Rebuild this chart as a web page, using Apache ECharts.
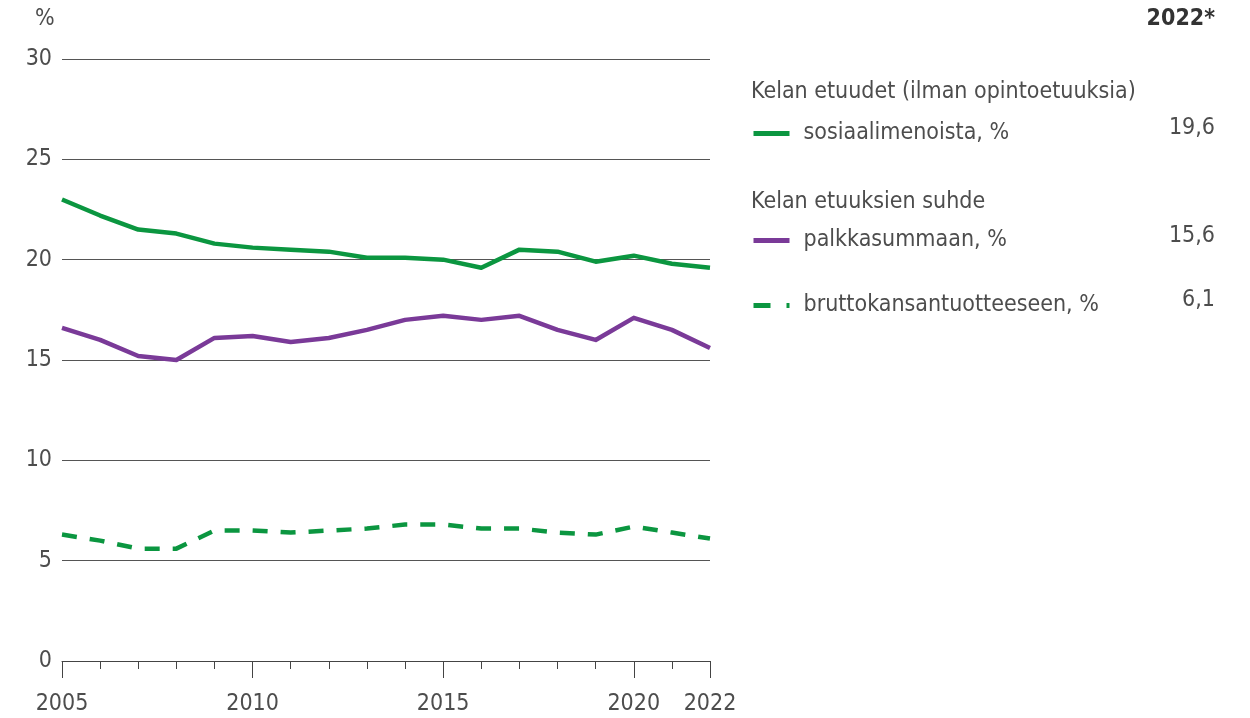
<!DOCTYPE html>
<html>
<head>
<meta charset="utf-8">
<script src="https://cdn.jsdelivr.net/npm/echarts@6/dist/echarts.min.js"></script>
<style>
html,body{margin:0;padding:0;background:#fff;}
#chart{width:1250px;height:718px;}
</style>
</head>
<body>
<div id="chart"></div>
<script>
const years = [2005,2006,2007,2008,2009,2010,2011,2012,2013,2014,2015,2016,2017,2018,2019,2020,2021,2022];
const sosiaalimenoista = [23.0,22.2,21.5,21.3,20.8,20.6,20.5,20.4,20.1,20.1,20.0,19.6,20.5,20.4,19.9,20.2,19.8,19.6];
const palkkasummaan = [16.6,16.0,15.2,15.0,16.1,16.2,15.9,16.1,16.5,17.0,17.2,17.0,17.2,16.5,16.0,17.1,16.5,15.6];
const bruttokansantuote = [6.3,6.0,5.6,5.6,6.5,6.5,6.4,6.5,6.6,6.8,6.8,6.6,6.6,6.4,6.3,6.7,6.4,6.1];
const xTickLabels = [2005,2010,2015,2020,2022];
const seriesNames = ['sosiaalimenoista, %','palkkasummaan, %','bruttokansantuotteeseen, %'];
const groupHeaders = ['Kelan etuudet (ilman opintoetuuksia)','Kelan etuuksien suhde'];
const yUnit = '%';
const latestLabel = '2022*';

const FONT = '"Liberation Sans Narrow", "Arial Narrow", "DejaVu Sans Condensed", sans-serif';
const FS = 23;
const TXT = '#4d4d4d';
const GREEN = '#0b9640';
const PURPLE = '#7a3a98';

const pairs = arr => years.map((y,i)=>[y,arr[i]]);
const fmt = v => v.toFixed(1).replace('.', ',');

const chart = echarts.init(document.getElementById('chart'), null, {renderer:'canvas'});

const legendBase = {
  left: 751, orient:'horizontal', padding:0, itemWidth:36, itemHeight:14,
  selectedMode:false,
  itemStyle:{opacity:0},
  lineStyle:{width:5},
  textStyle:{fontFamily:FONT, fontSize:FS, color:TXT, padding:[0,0,13,9]}
};

const option = {
  animation:false,
  backgroundColor:'#ffffff',
  grid:{left:62, right:540, top:59, bottom:57, containLabel:false},
  xAxis:[
    {type:'value', min:2005, max:2022, interval:1,
     axisLine:{show:true, lineStyle:{color:'#444', width:1}},
     axisTick:{show:true, length:8, lineStyle:{color:'#444', width:1}},
     axisLabel:{show:false}, splitLine:{show:false}},
    {type:'value', min:2005, max:2022, interval:1, position:'bottom',
     axisLine:{show:false},
     axisTick:{show:true, length:17, customValues:xTickLabels, lineStyle:{color:'#444', width:1}},
     axisLabel:{show:true, customValues:xTickLabels, margin:32, fontFamily:FONT, fontSize:FS, color:TXT,
       formatter: v => String(v)},
     splitLine:{show:false}}
  ],
  yAxis:{type:'value', min:0, max:30, interval:5,
    axisLine:{show:false}, axisTick:{show:false},
    axisLabel:{margin:10, fontFamily:FONT, fontSize:FS, color:TXT},
    splitLine:{show:true, lineStyle:{color:'#555', width:1}}},
  legend:[
    Object.assign({}, legendBase, {top:122, data:[seriesNames[0]]}),
    Object.assign({}, legendBase, {top:229, data:[seriesNames[1]]}),
    Object.assign({}, legendBase, {top:294, data:[seriesNames[2]], lineStyle:{width:5, type:[17,16]}})
  ],
  series:[
    {name:seriesNames[0], type:'line', xAxisIndex:0, data:pairs(sosiaalimenoista), symbol:'none',
     lineStyle:{color:GREEN, width:4.5, join:'round'}, itemStyle:{color:GREEN}},
    {name:seriesNames[1], type:'line', xAxisIndex:0, data:pairs(palkkasummaan), symbol:'none',
     lineStyle:{color:PURPLE, width:4.5, join:'round'}, itemStyle:{color:PURPLE}},
    {name:seriesNames[2], type:'line', xAxisIndex:0, data:pairs(bruttokansantuote), symbol:'none',
     lineStyle:{color:GREEN, width:4.5, type:[15,13], cap:'butt'}, itemStyle:{color:GREEN}}
  ],
  graphic:[
    {type:'text', left:35, top:8, style:{text:yUnit, font:FS+'px '+FONT, fill:TXT}},
    {type:'text', right:35, top:8, style:{text:latestLabel, font:'bold '+FS+'px '+FONT, fill:'#333'}},
    {type:'text', left:751, top:81, style:{text:groupHeaders[0], font:FS+'px '+FONT, fill:TXT}},
    {type:'text', left:751, top:191, style:{text:groupHeaders[1], font:FS+'px '+FONT, fill:TXT}},
    {type:'text', right:35, top:117, style:{text:fmt(sosiaalimenoista[sosiaalimenoista.length-1]), font:FS+'px '+FONT, fill:TXT}},
    {type:'text', right:35, top:225, style:{text:fmt(palkkasummaan[palkkasummaan.length-1]), font:FS+'px '+FONT, fill:TXT}},
    {type:'text', right:35, top:289, style:{text:fmt(bruttokansantuote[bruttokansantuote.length-1]), font:FS+'px '+FONT, fill:TXT}}
  ]
};
chart.setOption(option);
</script>
</body>
</html>
